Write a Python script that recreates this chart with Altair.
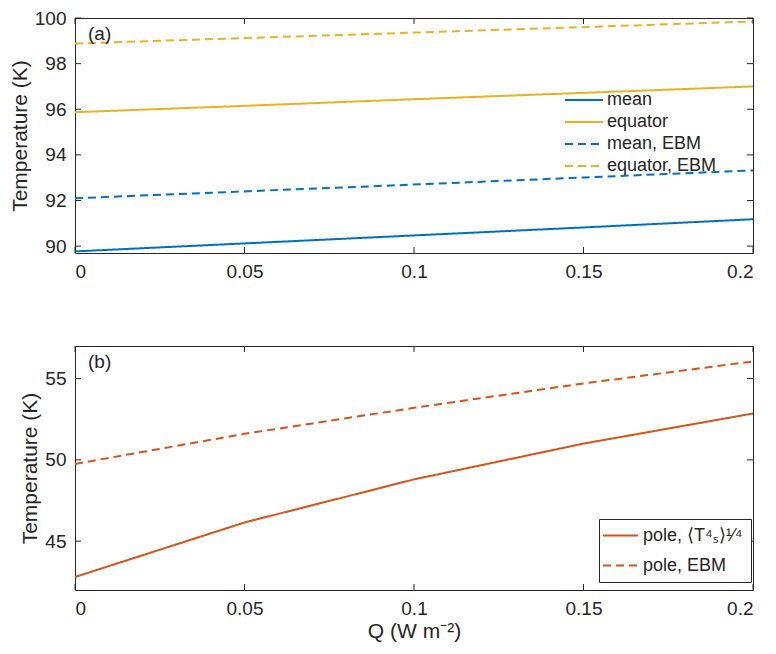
import altair as alt
import pandas as pd

# ---- data ----
Q = [0, 0.05, 0.1, 0.15, 0.2]
mean = [89.77, 90.12, 90.47, 90.82, 91.18]
equator = [95.87, 96.15, 96.44, 96.72, 97.0]
mean_ebm = [92.1, 92.4, 92.7, 93.01, 93.32]
equator_ebm = [98.88, 99.12, 99.36, 99.6, 99.85]
pole = [42.8, 46.15, 48.8, 51.0, 52.85]
pole_ebm = [49.75, 51.6, 53.2, 54.7, 56.05]

top_names = ["mean", "equator", "mean, EBM", "equator, EBM"]
bottom_names = ["pole,  ⟨T⁴ₛ⟩¹⁄⁴", "pole, EBM"]

xticks = [0, 0.05, 0.1, 0.15, 0.2]
yticks_a = [90, 92, 94, 96, 98, 100]
yticks_b = [45, 50, 55]

# ---- styling ----
FONT = "Liberation Sans"
TXT = "#262626"
BLUE = "#0072BD"
YELLOW = "#EDB120"
ORANGE = "#D95319"
W, H1, H2 = 678, 235, 244
DOM_X = [0, 0.2]
DOM_A = [89.7, 100]
DOM_B = [42, 57]
TL = 6  # inward tick length

top_df = pd.concat(
    [pd.DataFrame({"Q": Q, "T": v, "series": n})
     for n, v in zip(top_names, [mean, equator, mean_ebm, equator_ebm])],
    ignore_index=True)
bot_df = pd.concat(
    [pd.DataFrame({"Q": Q, "T": v, "series": n})
     for n, v in zip(bottom_names, [pole, pole_ebm])],
    ignore_index=True)


def panel(df, names, colors, dashes, dom_y, yticks, h, label, legend, xtitle):
    xs = alt.Scale(domain=DOM_X, nice=False, zero=False)
    ys = alt.Scale(domain=dom_y, nice=False, zero=False)
    xax = alt.Axis(values=xticks, format="~g", title=xtitle, titlePadding=2)
    yax = alt.Axis(values=yticks, title="Temperature (K)", titlePadding=4)
    lines = alt.Chart(df).mark_line(strokeWidth=2, clip=True).encode(
        x=alt.X("Q:Q", scale=xs, axis=xax, title=xtitle),
        y=alt.Y("T:Q", scale=ys, axis=yax, title="Temperature (K)"),
        color=alt.Color("series:N", sort=names,
                        scale=alt.Scale(domain=names, range=colors),
                        legend=legend),
        strokeDash=alt.StrokeDash("series:N", sort=names,
                                  scale=alt.Scale(domain=names, range=dashes),
                                  legend=legend),
    )
    ydf = pd.DataFrame({"v": yticks})
    xdf = pd.DataFrame({"v": xticks})
    yenc = alt.Y("v:Q", scale=ys, axis=yax, title="Temperature (K)")
    xenc = alt.X("v:Q", scale=xs, axis=xax, title=xtitle)
    yl = alt.Chart(ydf).mark_rule(color=TXT, strokeWidth=1).encode(
        y=yenc, x=alt.value(0), x2=alt.value(TL))
    yr = alt.Chart(ydf).mark_rule(color=TXT, strokeWidth=1).encode(
        y=yenc, x=alt.value(W - TL), x2=alt.value(W))
    xb = alt.Chart(xdf).mark_rule(color=TXT, strokeWidth=1).encode(
        x=xenc, y=alt.value(h - TL), y2=alt.value(h))
    xt = alt.Chart(xdf).mark_rule(color=TXT, strokeWidth=1).encode(
        x=xenc, y=alt.value(0), y2=alt.value(TL))
    lab = alt.Chart(pd.DataFrame({"t": [label]})).mark_text(
        align="left", baseline="middle", fontSize=19, font=FONT, color=TXT
    ).encode(text="t:N", x=alt.value(13), y=alt.value(16))
    return alt.layer(lines, yl, yr, xb, xt, lab).properties(width=W, height=h)


leg_a = alt.Legend(title=None, orient="none", legendX=489, legendY=72,
                   padding=0, symbolType="stroke", symbolSize=1444,
                   symbolStrokeWidth=2, labelFontSize=18, labelFont=FONT,
                   labelColor=TXT, labelLimit=400, labelOffset=3,
                   clipHeight=20, rowPadding=2)
leg_b = alt.Legend(title=None, orient="none", legendX=524, legendY=173,
                   padding=3, symbolType="stroke", symbolSize=1225,
                   symbolStrokeWidth=2, labelFontSize=18, labelFont=FONT,
                   labelColor=TXT, labelLimit=400, labelOffset=4,
                   clipHeight=27, rowPadding=3,
                   strokeColor=TXT, fillColor="white")

top = panel(top_df, top_names, [BLUE, YELLOW, BLUE, YELLOW],
            [[1, 0], [1, 0], [8, 5], [8, 5]], DOM_A, yticks_a, H1, "(a)",
            leg_a, None)
bot = panel(bot_df, bottom_names, [ORANGE, ORANGE], [[1, 0], [8, 5]],
            DOM_B, yticks_b, H2, "(b)", leg_b, "Q (W m⁻²)")

chart = alt.vconcat(top, bot, spacing=63).resolve_scale(
    color="independent", strokeDash="independent"
).properties(
    padding={"left": 0, "top": 0, "right": 0, "bottom": 0}
).configure(font=FONT).configure_view(
    stroke=TXT, strokeWidth=1
).configure_axis(
    labelFont=FONT, labelFontSize=19, labelColor=TXT,
    titleFont=FONT, titleFontSize=21, titleColor=TXT, titleFontWeight="normal",
    ticks=False, domain=False, grid=False, labelPadding=9,
)

chart.save("out.html", embed_options={"renderer": "svg", "actions": False})
